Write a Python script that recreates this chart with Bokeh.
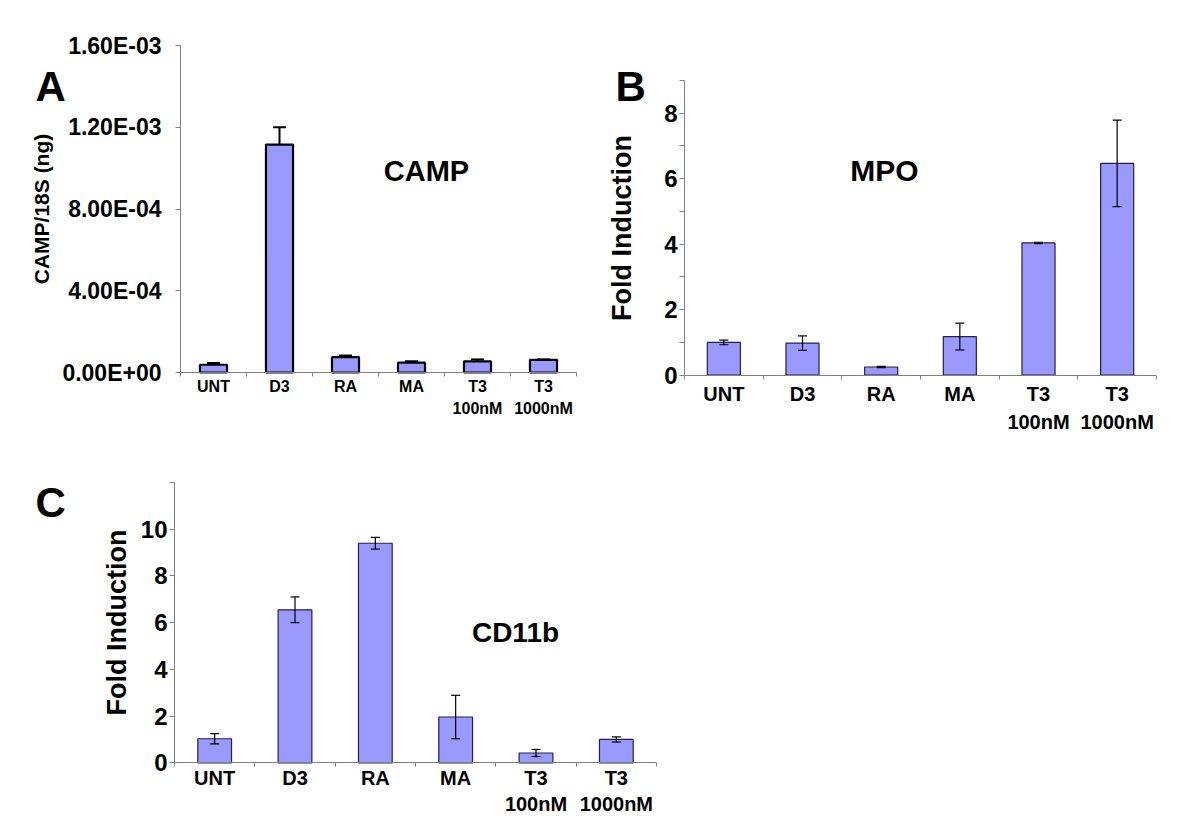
from bokeh.plotting import figure
from bokeh.models import FixedTicker, Label, Whisker, TeeHead, ColumnDataSource, Range1d
from bokeh.layouts import row, column
from bokeh.embed import file_html
from bokeh.resources import INLINE

# ---------------- data ----------------
categories = ["UNT", "D3", "RA", "MA", "T3\n100nM", "T3\n1000nM"]

camp_values = [3.8e-5, 1.115e-3, 7.5e-5, 4.8e-5, 5.4e-5, 6.2e-5]
camp_errors = [0.8e-5, 8.5e-5, 0.8e-5, 0.7e-5, 1.0e-5, 0.2e-5]
camp_ticks = [0.0, 4e-4, 8e-4, 1.2e-3, 1.6e-3]
camp_tick_labels = ["0.00E+00", "4.00E-04", "8.00E-04", "1.20E-03", "1.60E-03"]

mpo_values = [1.0, 0.98, 0.25, 1.18, 4.04, 6.47]
mpo_errors = [0.07, 0.22, 0.02, 0.41, 0.02, 1.32]
mpo_ticks = [0, 2, 4, 6, 8]
mpo_minor_ticks = [1, 3, 5, 7, 9]

cd11b_values = [1.03, 6.55, 9.4, 1.96, 0.42, 1.0]
cd11b_errors = [0.22, 0.55, 0.25, 0.93, 0.15, 0.11]
cd11b_ticks = [0, 2, 4, 6, 8, 10]
cd11b_minor_ticks = [12]

FONT = "Liberation Sans"
BAR = "#9999FF"
GREY = "#808080"


class Panel:
    """Figure whose frame fills the whole canvas; axes are drawn at data 0."""

    def __init__(self, x0, y0, w, h, ax_x0, ax_x1, ax_y0, ax_y1, ymax):
        n = len(categories)
        self.x0, self.y0 = x0, y0
        self.ppx = (ax_x1 - ax_x0) / n
        self.ppy = (ax_y0 - ax_y1) / ymax
        xs = -(ax_x0 - x0) / self.ppx
        xe = xs + w / self.ppx
        ye = ymax + (ax_y1 - y0) / self.ppy
        ys = ye - h / self.ppy
        self.xs, self.ye = xs, ye
        self.p = figure(width=w, height=h, output_backend="svg", toolbar_location=None,
                        x_range=Range1d(xs, xe), y_range=Range1d(ys, ye),
                        min_border=0, min_border_left=0, min_border_right=0,
                        min_border_top=0, min_border_bottom=0)
        p = self.p
        p.grid.visible = False
        p.outline_line_color = None
        p.background_fill_color = "white"
        p.border_fill_color = "white"
        self.n = n
        self.ymax = ymax

    def dx(self, px):
        return self.xs + (px - self.x0) / self.ppx

    def dy(self, py):
        return self.ye - (py - self.y0) / self.ppy

    def bars(self, values, errors, bar_width, bar_line, bar_lw, err_lw, err_head, upper_only):
        xs = [i + 0.5 for i in range(self.n)]
        src = ColumnDataSource(dict(x=xs, top=values,
                                    upper=[v + e for v, e in zip(values, errors)],
                                    lower=[v if upper_only else v - e for v, e in zip(values, errors)]))
        self.p.vbar(x="x", top="top", bottom=0, width=bar_width, source=src,
                    fill_color=BAR, line_color=bar_line, line_width=bar_lw)
        w = Whisker(source=src, base="x", upper="upper", lower="lower", dimension="height",
                    line_color="black", line_width=err_lw, level="annotation",
                    upper_head=TeeHead(size=err_head, line_color="black", line_width=err_lw),
                    lower_head=None if upper_only else TeeHead(size=err_head, line_color="black",
                                                               line_width=err_lw))
        self.p.add_layout(w)
        self.xs_cat = xs

    def axes(self, yticks, yminor, ylabel_overrides, ylabel, ytick_size, ylabel_size,
             xtick_size, xline_height, ylab_standoff, ytick_standoff, xtick_standoff, ybound):
        p = self.p
        xs = self.xs_cat
        xa = p.xaxis[0]
        xa.fixed_location = 0
        xa.bounds = (0, self.n)
        xa.ticker = FixedTicker(ticks=xs, minor_ticks=list(range(self.n + 1)))
        xa.major_label_overrides = {x: c for x, c in zip(xs, categories)}
        xa.axis_line_color = GREY
        xa.major_tick_out = 0
        xa.major_tick_in = 0
        xa.major_tick_line_color = None
        xa.minor_tick_out = 4
        xa.minor_tick_in = 0
        xa.minor_tick_line_color = GREY
        xa.major_label_text_font = FONT
        xa.major_label_text_font_style = "bold"
        xa.major_label_text_font_size = xtick_size
        xa.major_label_text_color = "black"
        xa.major_label_text_line_height = xline_height
        xa.major_label_standoff = xtick_standoff

        ya = p.yaxis[0]
        ya.fixed_location = 0
        ya.bounds = (0, ybound)
        ya.ticker = FixedTicker(ticks=yticks, minor_ticks=yminor)
        if ylabel_overrides:
            ya.major_label_overrides = ylabel_overrides
        ya.axis_line_color = GREY
        ya.major_tick_out = 5
        ya.major_tick_in = 0
        ya.major_tick_line_color = GREY
        ya.minor_tick_out = 5
        ya.minor_tick_in = 0
        ya.minor_tick_line_color = GREY
        ya.major_label_text_font = FONT
        ya.major_label_text_font_style = "bold"
        ya.major_label_text_font_size = ytick_size
        ya.major_label_text_color = "black"
        ya.major_label_standoff = ytick_standoff
        ya.axis_label = ylabel
        ya.axis_label_text_font = FONT
        ya.axis_label_text_font_style = "bold"
        ya.axis_label_text_font_size = ylabel_size
        ya.axis_label_text_color = "black"
        ya.axis_label_standoff = ylab_standoff

    def text(self, px, py, text, size, align="center", baseline="alphabetic"):
        self.p.add_layout(Label(x=self.dx(px), y=self.dy(py), text=text, text_font=FONT,
                                text_font_style="bold", text_font_size=size, text_color="black",
                                text_align=align, text_baseline=baseline))


# ---------------- Panel A ----------------
A = Panel(0, 0, 600, 440, ax_x0=180, ax_x1=576, ax_y0=372, ax_y1=45, ymax=camp_ticks[-1])
A.bars(camp_values, camp_errors, bar_width=0.41, bar_line="black", bar_lw=2.2,
       err_lw=2, err_head=13, upper_only=True)
A.axes(camp_ticks, [], {t: l for t, l in zip(camp_ticks, camp_tick_labels)}, "CAMP/18S (ng)",
       ytick_size="23px", ylabel_size="21px", xtick_size="16px", xline_height=1.3,
       ylab_standoff=6, ytick_standoff=14, xtick_standoff=1, ybound=camp_ticks[-1])
A.text(426, 170, "CAMP", "29px")
A.text(35, 86, "A", "42px", align="left")

# ---------------- Panel B ----------------
B = Panel(600, 0, 596, 440, ax_x0=684, ax_x1=1156, ax_y0=374.7, ax_y1=80, ymax=9)
B.bars(mpo_values, mpo_errors, bar_width=0.42, bar_line="#222244", bar_lw=1.2,
       err_lw=1.2, err_head=9, upper_only=False)
B.axes(mpo_ticks, mpo_minor_ticks, None, "Fold Induction",
       ytick_size="24px", ylabel_size="27px", xtick_size="20px", xline_height=1.25,
       ylab_standoff=24, ytick_standoff=2, xtick_standoff=4, ybound=9)
B.text(884, 170, "MPO", "30px")
B.text(615, 86, "B", "42px", align="left")

# ---------------- Panel C ----------------
C = Panel(0, 440, 680, 380, ax_x0=174, ax_x1=656, ax_y0=762.3, ax_y1=482, ymax=12)
C.bars(cd11b_values, cd11b_errors, bar_width=0.42, bar_line="#222244", bar_lw=1.2,
       err_lw=1.2, err_head=9, upper_only=False)
C.axes(cd11b_ticks, cd11b_minor_ticks, None, "Fold Induction",
       ytick_size="24px", ylabel_size="27px", xtick_size="20px", xline_height=1.2,
       ylab_standoff=6, ytick_standoff=2, xtick_standoff=0, ybound=12)
C.text(515, 632, "CD11b", "28px")
C.text(35, 502, "C", "42px", align="left")

layout = column(row(A.p, B.p), C.p)
open("out.html", "w").write(file_html(layout, INLINE))
